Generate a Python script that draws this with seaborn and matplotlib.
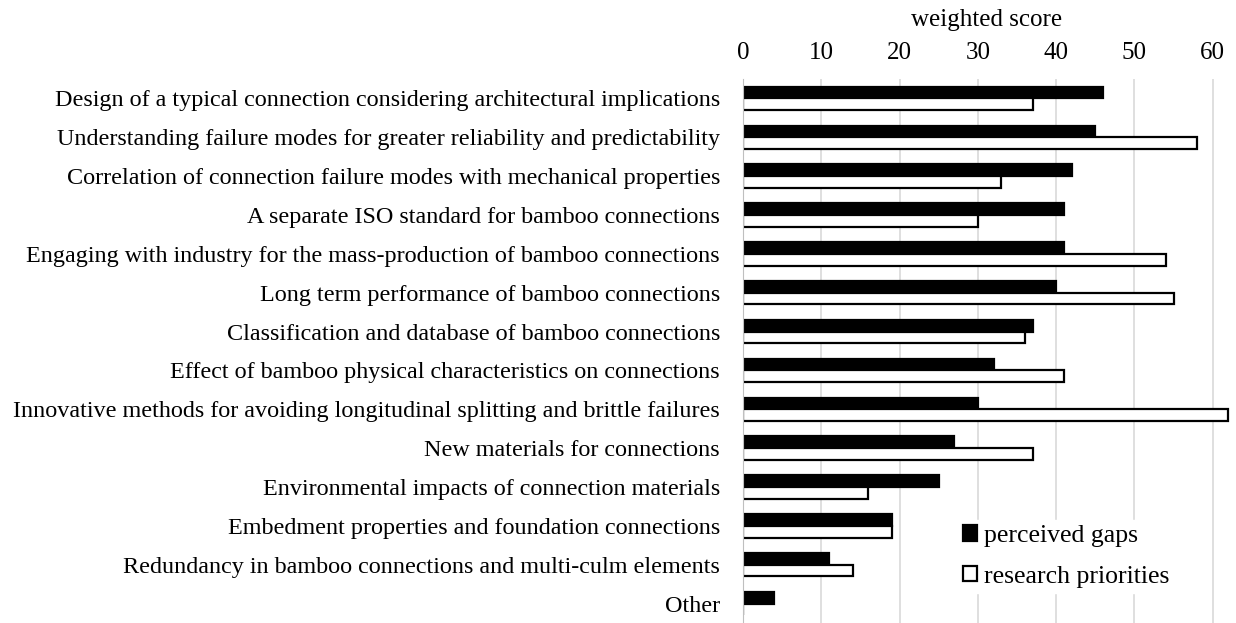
import matplotlib
matplotlib.use("Agg")
import matplotlib.pyplot as plt
import seaborn as sns
import pandas as pd
from matplotlib.patches import Patch

categories = [
    "Design of a typical connection considering architectural implications",
    "Understanding failure modes for greater reliability and predictability",
    "Correlation of connection failure modes with mechanical properties",
    "A separate ISO standard for bamboo connections",
    "Engaging with industry for the mass-production of bamboo connections",
    "Long term performance of bamboo connections",
    "Classification and database of bamboo connections",
    "Effect of bamboo physical characteristics on connections",
    "Innovative methods for avoiding longitudinal splitting and brittle failures",
    "New materials for connections",
    "Environmental impacts of connection materials",
    "Embedment properties and foundation connections",
    "Redundancy in bamboo connections and multi-culm elements",
    "Other",
]
perceived_gaps = [46, 45, 42, 41, 41, 40, 37, 32, 30, 27, 25, 19, 11, 4]
research_priorities = [37, 58, 33, 30, 54, 55, 36, 41, 62, 37, 16, 19, 14, 0]
series_names = ["perceived gaps", "research priorities"]
x_ticks = [0, 10, 20, 30, 40, 50, 60]

df = pd.DataFrame({
    "category": categories * 2,
    "score": perceived_gaps + research_priorities,
    "series": [series_names[0]] * len(categories) + [series_names[1]] * len(categories),
})

sns.set_style("white")
plt.rcParams["font.family"] = ["Liberation Serif", "DejaVu Serif"]
plt.rcParams["text.color"] = "black"
plt.rcParams["xtick.color"] = "black"
plt.rcParams["ytick.color"] = "black"
plt.rcParams["axes.labelcolor"] = "black"

fig = plt.figure(figsize=(12.36, 6.23), dpi=100)
ax = fig.add_axes([743 / 1236, 0.0, (1230 - 743) / 1236, (623 - 79) / 623])

sns.barplot(data=df, y="category", x="score", hue="series", orient="h",
            palette=["black", "white"], edgecolor="black", linewidth=1.6,
            width=0.6, ax=ax, legend=False)

ax.set_xlim(0, 62.2)
ax.set_xticks(x_ticks)
ax.xaxis.tick_top()
ax.xaxis.set_label_position("top")
ax.set_xlabel("weighted score", fontsize=18, labelpad=11)
ax.set_ylabel("")
ax.tick_params(axis="x", length=0, labelsize=18, pad=11)
ax.tick_params(axis="y", length=0, labelsize=17.4, pad=16.5)
ax.grid(axis="x", color="#d9d9d9", linewidth=1.2)
ax.set_axisbelow(True)
for s in ["top", "right", "bottom"]:
    ax.spines[s].set_visible(False)
ax.spines["left"].set_color("#bfbfbf")

handles = [Patch(facecolor="black", edgecolor="black", linewidth=1.6),
           Patch(facecolor="white", edgecolor="black", linewidth=1.6)]
ax.legend(handles, series_names, loc="lower left", bbox_to_anchor=(0.415, 0.032),
          frameon=True, framealpha=1, edgecolor="white", fontsize=18.5,
          handlelength=0.55, handleheight=0.55, handletextpad=0.25, labelspacing=0.72,
          borderpad=0.2)

fig.savefig("out.png", dpi=100)
